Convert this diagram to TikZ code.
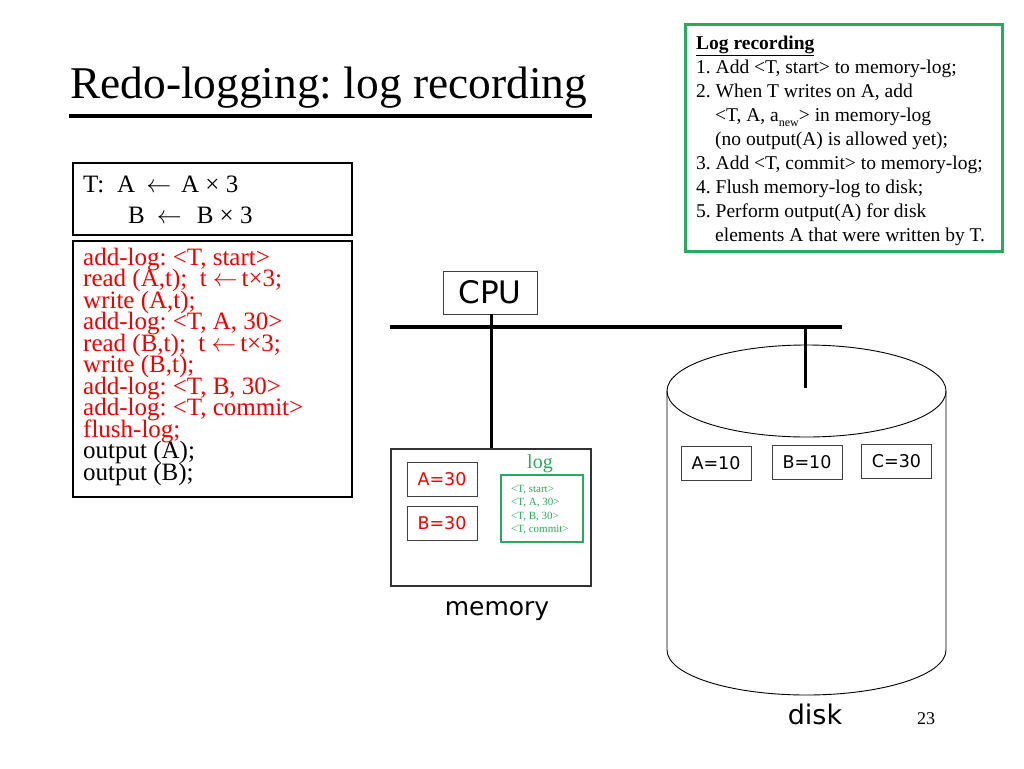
\documentclass[tikz,border=0pt]{standalone}
\usepackage{fontspec}
\setmainfont{Liberation Serif}
\newfontfamily\sansf{DejaVu Sans}
\definecolor{boxgreen}{RGB}{40,170,95}
\definecolor{txtred}{RGB}{240,0,0}
\frenchspacing
\newcommand{\larr}{$\leftarrow$}
\begin{document}
\begin{tikzpicture}[x=1pt,y=-1pt,
  txt/.style={anchor=base west,inner sep=0pt},
  ctxt/.style={anchor=base,inner sep=0pt},
  rtxt/.style={txt,font=\fontsize{19.5}{24}\selectfont},
  ltxt/.style={txt,font=\fontsize{25}{21.5}\selectfont},
  redline/.style={ltxt,text=txtred},
  frame/.style={draw,line width=2pt,inner sep=0pt},
  valbox/.style={draw=black!75,line width=0.9pt,inner sep=0pt,minimum width=70pt,minimum height=34pt,font=\sansf\fontsize{17.5}{18}\selectfont},
  bus/.style={line width=3.5pt},
  logtxt/.style={txt,text=boxgreen,font=\fontsize{11}{12}\selectfont}
]
\useasboundingbox (0,0) rectangle (1024,768);

% title
\node[txt,font=\fontsize{45.4}{50}\selectfont] (title) at (70,98) {Redo-logging: log recording};
\coordinate (ulL) at (69,116);
\coordinate (ulR) at (592,116);
\draw[line width=4pt] (ulL) -- (ulR);

% top-right rule box
\node[draw=boxgreen,line width=2.5pt,minimum width=317pt,minimum height=227pt,inner sep=0pt] (rules) at (844,138) {};
\node[rtxt] (r0) at (696,49) {\textbf{\underline{Log recording}}};
\node[rtxt] (r1) at (696,73) {1. Add <T, start> to memory-log;};
\node[rtxt] (r2) at (696,97) {2. When T writes on A, add};
\node[rtxt] (r3) at (715,121) {<T, A, a\raisebox{-0.3em}{\fontsize{12}{12}\selectfont new}> in memory-log};
\node[rtxt] (r4) at (715,145) {(no output(A) is allowed yet);};
\node[rtxt] (r5) at (696,169) {3. Add <T, commit> to memory-log;};
\node[rtxt] (r6) at (696,193) {4. Flush memory-log to disk;};
\node[rtxt] (r7) at (696,217) {5. Perform output(A) for disk};
\node[rtxt] (r8) at (715,241) {elements A that were written by T.};

% transaction box
\node[frame,minimum width=279pt,minimum height=72pt] (tbox) at (212.5,199) {};
\node[ltxt] (t1) at (83,192) {T:};
\node[ltxt] (t2) at (117,192) {A\hspace{11pt}\larr\hspace{10pt}A × 3};
\node[ltxt] (t3) at (128,223) {B\hspace{12pt}\larr\hspace{15pt}B × 3};

% program box
\node[frame,minimum width=279pt,minimum height=256pt] (pbox) at (212.5,369) {};
\node[redline] (p1) at (83,265) {add-log: <T, start>};
\node[redline] (p2) at (83,286.5) {read (A,t);\ \ t\hspace{6pt}\larr\hspace{4pt}t×3;};
\node[redline] (p3) at (83,308) {write (A,t);};
\node[redline] (p4) at (83,329.5) {add-log: <T, A, 30>};
\node[redline] (p5) at (83,351) {read (B,t);\ \ t\hspace{6pt}\larr\hspace{4pt}t×3;};
\node[redline] (p6) at (83,372.5) {write (B,t);};
\node[redline] (p7) at (83,394) {add-log: <T, B, 30>};
\node[redline] (p8) at (83,415.5) {add-log: <T, commit>};
\node[redline] (p9) at (83,437) {flush-log;};
\node[ltxt] (p10) at (83,458.5) {output (A);};
\node[ltxt] (p11) at (83,480) {output (B);};

% CPU and bus
\node[draw=black!75,line width=0.9pt,minimum width=94pt,minimum height=43pt,inner sep=0pt,font=\sansf\fontsize{31}{31}\selectfont] (cpu) at (490,292.5) {CPU};
\coordinate (busL) at (390,327);
\coordinate (busR) at (842,327);
\draw[bus] (busL) -- (busR);

% memory
\node[draw=black!80,line width=1.2pt,minimum width=200pt,minimum height=137pt,inner sep=0pt] (mem) at (491,517.5) {};
\draw[line width=3pt] (cpu.south -| mem.north) -- (mem.north);
\node[valbox,text=txtred] (ma) at (442,479.5) {A=30};
\node[valbox,text=txtred] (mb) at (442,523.5) {B=30};
\node[ctxt,text=boxgreen,font=\fontsize{20}{20}\selectfont] (loglbl) at (540,468) {log};
\node[draw=boxgreen,line width=1.5pt,minimum width=82pt,minimum height=67pt,inner sep=0pt] (logbox) at (542,508.5) {};
\node[logtxt] (l1) at (511,492) {<T, start>};
\node[logtxt] (l2) at (511,505.5) {<T, A, 30>};
\node[logtxt] (l3) at (511,519) {<T, B, 30>};
\node[logtxt] (l4) at (511,532.5) {<T, commit>};
\node[ctxt,font=\sansf\fontsize{25}{25}\selectfont] (memlbl) at (497,615) {memory};

% disk
\draw[line width=0.9pt] (667,391) -- (667,650) arc[start angle=180,end angle=360,x radius=139.5pt,y radius=45pt] -- (946,391);
\draw[line width=0.9pt] (806.5,391) ellipse[x radius=139.5pt,y radius=46pt];
\coordinate (dtop) at (805,327);
\coordinate (dend) at (805,388);
\draw[line width=3pt] (dtop) -- (dend);
\node[valbox] (da) at (716,463.5) {A=10};
\node[valbox] (db) at (807,462) {B=10};
\node[valbox] (dc) at (896.5,461) {C=30};
\node[ctxt,font=\sansf\fontsize{27}{27}\selectfont] (disklbl) at (815,724) {disk};
\node[ctxt,font=\fontsize{18}{18}\selectfont] (pnum) at (926,724) {23};
\end{tikzpicture}
\end{document}
